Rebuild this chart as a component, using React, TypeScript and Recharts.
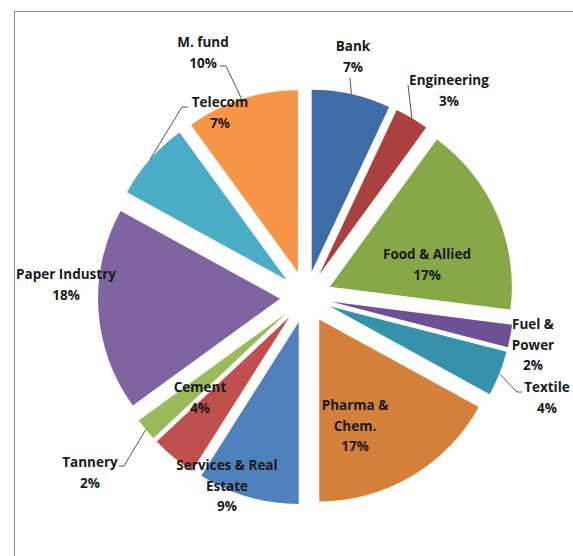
import { PieChart, Pie, Sector } from "recharts";

const categories = [
  "Bank",
  "Engineering",
  "Food & Allied",
  "Fuel & Power",
  "Textile",
  "Pharma & Chem.",
  "Services & Real Estate",
  "Cement",
  "Tannery",
  "Paper Industry",
  "Telecom",
  "M. fund",
];
const shares = [7, 3, 17, 2, 4, 17, 9, 4, 2, 18, 7, 10];
const colors = [
  "#3e6ca6",
  "#ab413e",
  "#86a847",
  "#6e5097",
  "#3592aa",
  "#d4803a",
  "#4f81bd",
  "#c0504d",
  "#9bbb59",
  "#8064a2",
  "#4bacc6",
  "#f79646",
];

// how the long names break onto lines, like Excel did
const wrapped: Record<string, string[]> = {
  "Fuel & Power": ["Fuel &", "Power"],
  "Pharma & Chem.": ["Pharma &", "Chem."],
  "Services & Real Estate": ["Services & Real", "Estate"],
};

// label placement (centre x, first line y) and leader elbows
const labelAt: { x: number; y: number; lead?: number[][] }[] = [
  { x: 353, y: 46, lead: [[350, 78]] },
  { x: 449, y: 80, lead: [[408, 85]] },
  { x: 427, y: 254 },
  { x: 533, y: 324 },
  { x: 547, y: 387, lead: [[522, 392], [517, 392]] },
  { x: 355, y: 405 },
  { x: 227, y: 465 },
  { x: 200, y: 387 },
  { x: 90, y: 462, lead: [[119, 466], [124, 466]] },
  { x: 66, y: 274 },
  { x: 220, y: 102, lead: [[188, 107], [182, 107]] },
  { x: 203, y: 42, lead: [[220, 66], [226, 66]] },
];

const data = categories.map((name, i) => ({
  name,
  value: shares[i],
  fill: colors[i],
}));

const EXPLODE = 26;
const RAD = Math.PI / 180;

const ExplodedSector = (props: any) => {
  const { cx, cy, midAngle } = props;
  const dx = EXPLODE * Math.cos(-midAngle * RAD);
  const dy = EXPLODE * Math.sin(-midAngle * RAD);
  return <Sector {...props} cx={cx + dx} cy={cy + dy} stroke="none" />;
};

const renderLabel = (props: any) => {
  const { index, cx, cy, midAngle, outerRadius, name, value } = props;
  const pos = labelAt[index];
  const lines = [...(wrapped[name] || [name]), `${value}%`];
  const r = outerRadius + EXPLODE;
  const ex = cx + r * Math.cos(-midAngle * RAD);
  const ey = cy + r * Math.sin(-midAngle * RAD);
  return (
    <g key={`lbl-${index}`}>
      {pos.lead && (
        <polyline
          points={[...pos.lead, [ex, ey]].map((p) => p.join(",")).join(" ")}
          fill="none"
          stroke="#555"
          strokeWidth={1}
        />
      )}
      {lines.map((t, j) => (
        <text
          key={j}
          x={pos.x}
          y={pos.y + j * 20.5}
          textAnchor="middle"
          dominantBaseline="central"
          fontFamily="'Open Sans', sans-serif"
          fontWeight={700}
          fontSize={13.5}
          fill="#1a1a1a"
        >
          {t}
        </text>
      ))}
    </g>
  );
};

export default function App() {
  return (
    <div
      style={{
        position: "absolute",
        left: 0,
        top: 0,
        width: 573,
        height: 556,
        background: "#fff",
        overflow: "hidden",
      }}
    >
      <div
        style={{
          position: "absolute",
          left: 14,
          top: 11,
          width: 600,
          height: 600,
          borderLeft: "1px solid #8a8a8a",
          borderTop: "1px solid #8a8a8a",
        }}
      />
      <div style={{ position: "absolute", left: 0, top: 0 }}>
        <PieChart width={573} height={556}>
          <Pie
            data={data}
            dataKey="value"
            nameKey="name"
            cx={301}
            cy={292}
            outerRadius={182}
            startAngle={90}
            endAngle={-270}
            stroke="none"
            shape={ExplodedSector}
            label={renderLabel}
            labelLine={false}
            isAnimationActive={false}
          />
        </PieChart>
      </div>
    </div>
  );
}
